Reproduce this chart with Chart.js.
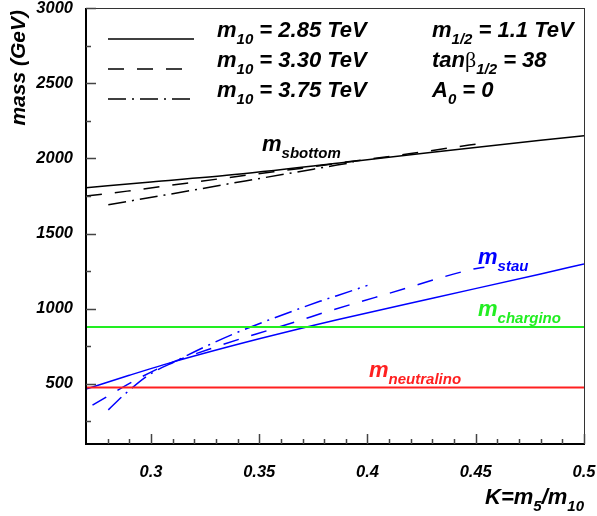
<!DOCTYPE html>
<html>
<head>
<meta charset="utf-8">
<script src="https://cdn.jsdelivr.net/npm/chart.js@4.4.0/dist/chart.umd.min.js"></script>
<style>
  html, body { margin: 0; padding: 0; background: #fff; }
</style>
</head>
<body>
<canvas id="chart" width="597" height="516"></canvas>
<script>
// axis ticks
const xTicks = [0.3, 0.35, 0.4, 0.45, 0.5];
const yTicks = [500, 1000, 1500, 2000, 2500, 3000];

// m_sbottom, three m10 values
const kSbottom285 = [0.27, 0.30, 0.335, 0.387, 0.43, 0.48, 0.50];
const mSbottom285 = [1805, 1843, 1887, 1969, 2040, 2120, 2151];
const kSbottom330 = [0.27, 0.289, 0.3165, 0.347, 0.369, 0.39, 0.42, 0.447, 0.454];
const mSbottom330 = [1749, 1782, 1835, 1893, 1933, 1975, 2032, 2088, 2101];
const kSbottom375 = [0.2803, 0.2906, 0.3048, 0.3196, 0.3333, 0.3473, 0.375, 0.3935];
const mSbottom375 = [1691, 1717, 1752, 1789, 1824, 1859, 1928, 1974];

// m_stau
const kStau285 = [0.27, 0.29, 0.312, 0.35, 0.386, 0.43, 0.48, 0.50];
const mStau285 = [465, 557, 653, 800, 927, 1070, 1231, 1298];
const kStau330 = [0.273, 0.2914, 0.306, 0.312, 0.341, 0.3535, 0.3688, 0.3804, 0.41, 0.449, 0.454];
const mStau330 = [358, 513, 620, 655, 798, 853, 922, 976, 1102, 1264, 1276];
const kStau375 = [0.2803, 0.2879, 0.2991, 0.312, 0.325, 0.338, 0.3512, 0.3647, 0.378, 0.3919, 0.40];
const mStau375 = [327, 431, 560, 655, 747, 831, 907, 980, 1049, 1115, 1155];

// flat ones
const kFlat = [0.27, 0.5];
const mChargino = [878, 878];
const mNeutralino = [476, 476];

const SOLID = [];
const DASH = [16, 13];
const DASHDOT = [18, 6, 2, 6];

const BOLD = (px) => `italic bold ${px}px "Liberation Sans", Arial, sans-serif`;

const pts = (ks, ms) => ks.map((k, i) => ({ x: k, y: ms[i] }));

const mkSet = (ks, ms, color, dash, width) => ({
  data: pts(ks, ms),
  borderColor: color,
  borderWidth: width || 1.5,
  borderDash: dash,
  pointRadius: 0,
  fill: false,
  tension: 0,
  cubicInterpolationMode: 'monotone',
});

const datasets = [
  mkSet(kFlat, mNeutralino, '#ff2020', SOLID, 2),
  mkSet(kFlat, mChargino, '#22ee22', SOLID, 2),
  mkSet(kSbottom285, mSbottom285, '#000', SOLID),
  mkSet(kSbottom330, mSbottom330, '#000', DASH),
  mkSet(kSbottom375, mSbottom375, '#000', DASHDOT),
  mkSet(kStau285, mStau285, '#0000ff', SOLID),
  mkSet(kStau330, mStau330, '#0000ff', DASH),
  mkSet(kStau375, mStau375, '#0000ff', DASHDOT),
];

// draws "m_{sub}" style text piece by piece
const drawLatex = (ctx, x, y, parts, color, big, small) => {
  ctx.fillStyle = color;
  ctx.textBaseline = 'alphabetic';
  ctx.textAlign = 'left';
  parts.forEach(([txt, kind]) => {
    let dy = 0;
    if (kind === 'S') { ctx.font = BOLD(small); dy = 7; }
    else if (kind === 'G') { ctx.font = `${big}px "Liberation Serif", serif`; }
    else ctx.font = BOLD(big);
    ctx.fillText(txt, x, y + dy);
    x += ctx.measureText(txt).width;
  });
  return x;
};

const decor = {
  id: 'decor',
  afterDraw(chart) {
    const { ctx, chartArea: a, scales } = chart;
    const xs = scales.x, ys = scales.y;
    ctx.save();

    // frame
    ctx.setLineDash([]);
    ctx.strokeStyle = '#333';
    ctx.lineWidth = 1;
    ctx.strokeRect(a.left + 0.5, a.top + 0.5, a.right - a.left, a.bottom - a.top);
    ctx.strokeStyle = '#000';
    ctx.lineWidth = 2;
    ctx.beginPath();
    ctx.moveTo(a.left, a.top);
    ctx.lineTo(a.left, a.bottom);
    ctx.lineTo(a.right + 1, a.bottom);
    ctx.stroke();

    // inner ticks
    ctx.strokeStyle = '#444';
    ctx.lineWidth = 1.5;
    ctx.beginPath();
    for (let v = 250; v <= 3000; v += 250) {
      const y = Math.round(ys.getPixelForValue(v)) + 0.5;
      const len = v % 500 === 0 ? 10 : 5;
      ctx.moveTo(a.left, y);
      ctx.lineTo(a.left + len, y);
    }
    for (let i = 28; i <= 50; i++) {
      const x = Math.round(xs.getPixelForValue(i / 100)) + 0.5;
      const len = i % 5 === 0 ? 10 : 5;
      ctx.moveTo(x, a.bottom);
      ctx.lineTo(x, a.bottom - len);
    }
    ctx.stroke();

    // legend
    const rows = [
      { y: 37, dash: SOLID, txt: ' = 2.85 TeV' },
      { y: 67, dash: DASH, txt: ' = 3.30 TeV' },
      { y: 97, dash: DASHDOT, txt: ' = 3.75 TeV' },
    ];
    rows.forEach(r => {
      ctx.strokeStyle = '#000';
      ctx.lineWidth = 1.5;
      ctx.setLineDash(r.dash);
      ctx.beginPath();
      ctx.moveTo(108, r.y + 2);
      ctx.lineTo(194, r.y + 2);
      ctx.stroke();
      ctx.setLineDash([]);
      drawLatex(ctx, 217, r.y, [['m', 'M'], ['10', 'S'], [r.txt, 'M']], '#000', 22, 15);
    });
    drawLatex(ctx, 432, 37, [['m', 'M'], ['1/2', 'S'], [' = 1.1 TeV', 'M']], '#000', 22, 15);
    drawLatex(ctx, 432, 67, [['tan', 'M'], ['\u03b2', 'G'], ['1/2', 'S'], [' = 38', 'M']], '#000', 22, 15);
    drawLatex(ctx, 432, 97, [['A', 'M'], ['0', 'S'], [' = 0', 'M']], '#000', 22, 15);

    // curve labels
    drawLatex(ctx, 262, 151, [['m', 'M'], ['sbottom', 'S']], '#000', 22, 15);
    drawLatex(ctx, 478, 264, [['m', 'M'], ['stau', 'S']], '#0000ff', 22, 15);
    drawLatex(ctx, 478, 316, [['m', 'M'], ['chargino', 'S']], '#22ee22', 22, 15);
    drawLatex(ctx, 369, 377, [['m', 'M'], ['neutralino', 'S']], '#ff2020', 22, 15);

    // axis titles
    ctx.font = BOLD(22);
    const parts = [['K=m', 'M'], ['5', 'S'], ['/m', 'M'], ['10', 'S']];
    let w = 0;
    parts.forEach(([t, k]) => { ctx.font = BOLD(k === 'S' ? 15 : 22); w += ctx.measureText(t).width; });
    drawLatex(ctx, a.right - w, 504, parts, '#000', 22, 15);

    ctx.translate(25, a.top + 2);
    ctx.rotate(-Math.PI / 2);
    ctx.font = BOLD(21);
    ctx.textAlign = 'right';
    ctx.fillStyle = '#000';
    ctx.fillText('mass (GeV)', 0, 0);
    ctx.restore();
  },
};

new Chart(document.getElementById('chart').getContext('2d'), {
  type: 'line',
  data: { datasets },
  options: {
    responsive: false,
    animation: false,
    layout: { padding: { left: 0, top: 8, right: 13, bottom: 0 } },
    plugins: { legend: { display: false }, tooltip: { enabled: false } },
    scales: {
      x: {
        type: 'linear',
        min: 0.27,
        max: 0.5,
        grid: { display: false, drawTicks: false },
        border: { display: false },
        afterBuildTicks: s => { s.ticks = xTicks.map(v => ({ value: v })); },
        afterFit: s => { s.height = 72; s.paddingLeft = 0; s.paddingRight = 0; },
        ticks: {
          autoSkip: false,
          maxRotation: 0,
          padding: 19,
          color: '#000',
          font: { family: '"Liberation Sans", Arial', size: 16.5, style: 'italic', weight: 'bold' },
          callback: v => String(+(+v).toFixed(2)),
        },
      },
      y: {
        min: 100,
        max: 3000,
        grid: { display: false, drawTicks: false },
        border: { display: false },
        afterBuildTicks: s => { s.ticks = yTicks.map(v => ({ value: v })); },
        afterFit: s => { s.width = 86; s.paddingTop = 0; s.paddingBottom = 0; },
        ticks: {
          autoSkip: false,
          padding: 13,
          color: '#000',
          font: { family: '"Liberation Sans", Arial', size: 16.5, style: 'italic', weight: 'bold' },
          callback: v => String(v),
        },
      },
    },
  },
  plugins: [decor],
});
</script>
</body>
</html>
